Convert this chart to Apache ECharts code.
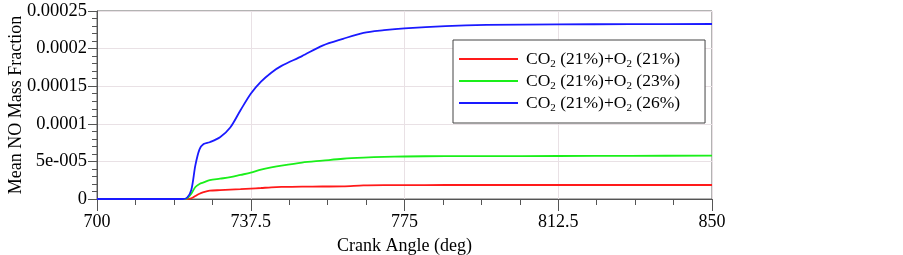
<!DOCTYPE html>
<html>
<head>
<meta charset="utf-8">
<script src="https://cdn.jsdelivr.net/npm/echarts@6/dist/echarts.min.js"></script>
<style>
  html, body { margin: 0; padding: 0; background: #fff; }
  #chart { width: 903px; height: 255px; }
</style>
</head>
<body>
<div id="chart"></div>
<script>
// crank angle samples (deg)
var angle = [700, 721, 722, 723, 724, 725, 726, 727.5, 730, 732.5, 735, 737.5, 740, 742.5, 745, 750, 755, 760, 765, 770, 775, 785, 795, 812.5, 830, 850];

var o2_21 = [0, 0, 0, 0.000001, 0.000004, 0.000007, 0.000009, 0.000011, 0.0000118, 0.0000124, 0.000013, 0.0000138, 0.0000146, 0.0000155, 0.000016, 0.0000164, 0.0000166, 0.0000168, 0.0000182, 0.0000185, 0.0000185, 0.0000186, 0.0000186, 0.0000186, 0.0000186, 0.0000186];
var o2_23 = [0, 0, 0.000001, 0.000007, 0.000016, 0.00002, 0.000022, 0.000025, 0.000027, 0.000029, 0.000032, 0.000035, 0.000039, 0.000042, 0.0000445, 0.0000485, 0.000051, 0.0000535, 0.000055, 0.000056, 0.0000565, 0.000057, 0.000057, 0.0000572, 0.0000574, 0.0000576];
var o2_26 = [0, 0, 0.000002, 0.000012, 0.000045, 0.000066, 0.000073, 0.0000755, 0.000082, 0.000095, 0.000118, 0.00014, 0.000156, 0.000168, 0.000177, 0.00019, 0.000204, 0.000213, 0.000221, 0.0002245, 0.000227, 0.00023, 0.0002315, 0.0002322, 0.0002325, 0.0002327];

var names = ['CO2 (21%)+O2 (21%)', 'CO2 (21%)+O2 (23%)', 'CO2 (21%)+O2 (26%)'];
var colors = ['#ff1a1a', '#1aef1a', '#1a1aff'];
var yTicks = [0, 0.00005, 0.0001, 0.00015, 0.0002, 0.00025];
var yTickLabels = ['0', '5e-005', '0.0001', '0.00015', '0.0002', '0.00025'];

function pairs(vals) {
    var out = [];
    for (var i = 0; i < angle.length; i++) {
        out.push([angle[i], vals[i]]);
    }
    return out;
}

var font = 'Liberation Serif';
var myChart = echarts.init(document.getElementById('chart'));

var series = [];
var allVals = [o2_21, o2_23, o2_26];
for (var k = 0; k < names.length; k++) {
    series.push({
        name: names[k],
        type: 'line',
        data: pairs(allVals[k]),
        smooth: 0.3,
        symbol: 'none',
        lineStyle: { color: colors[k], width: 1.8 },
        itemStyle: { color: colors[k] }
    });
}

var option = {
    animation: false,
    grid: {
        left: 97, top: 11, width: 615, height: 188,
        outerBoundsMode: 'none',
        show: true, borderColor: '#666', borderWidth: 1, backgroundColor: 'transparent'
    },
    legend: {
        orient: 'vertical',
        left: 453, top: 40,
        padding: [8, 25, 9, 6],
        itemWidth: 59, itemHeight: 2, itemGap: 0,
        icon: 'rect',
        backgroundColor: '#fff',
        borderColor: '#444', borderWidth: 1,
        data: names,
        formatter: function (name) {
            var parts = name.split(/(?<=O)2/);
            var s = '{f|' + parts[0] + '}';
            for (var i = 1; i < parts.length; i++) {
                s += '{s|2}{a|' + parts[i] + '}';
            }
            return s;
        },
        textStyle: {
            fontFamily: font, color: '#000',
            rich: {
                f: { fontFamily: font, fontSize: 17.5, color: '#000', lineHeight: 20, padding: [0, 0, 0, 3] },
                a: { fontFamily: font, fontSize: 17.5, color: '#000', lineHeight: 20 },
                s: { fontFamily: font, fontSize: 11, color: '#000', lineHeight: 9, padding: [11, 0, 0, 0] }
            }
        }
    },
    xAxis: {
        type: 'value',
        min: 700, max: 850, interval: 37.5,
        name: 'Crank Angle (deg)',
        nameLocation: 'middle', nameGap: 38, nameMoveOverlap: false,
        nameTextStyle: { fontFamily: font, fontSize: 18, color: '#000' },
        axisLine: { show: true, lineStyle: { color: '#555' } },
        axisTick: { show: true, inside: false, length: 12, lineStyle: { color: '#555' } },
        minorTick: { show: true, splitNumber: 4, length: 6, lineStyle: { color: '#555' } },
        axisLabel: { fontFamily: font, fontSize: 18, color: '#000', margin: 14 },
        splitLine: { show: true, lineStyle: { color: '#e9e1e5' } }
    },
    yAxis: {
        type: 'value',
        min: 0, max: 0.00025, interval: 0.00005,
        name: 'Mean NO Mass Fraction',
        nameLocation: 'middle', nameGap: 72, nameMoveOverlap: false,
        nameTextStyle: { fontFamily: font, fontSize: 18, color: '#000' },
        axisLine: { show: true, lineStyle: { color: '#555' } },
        axisTick: { show: true, inside: false, length: 9, lineStyle: { color: '#555' } },
        minorTick: { show: true, splitNumber: 5, length: 5, lineStyle: { color: '#555' } },
        axisLabel: {
            fontFamily: font, fontSize: 18.5, color: '#000', margin: 10,
            formatter: function (v) {
                for (var i = 0; i < yTicks.length; i++) {
                    if (Math.abs(v - yTicks[i]) < 1e-9) return yTickLabels[i];
                }
                return '';
            }
        },
        splitLine: { show: true, lineStyle: { color: '#e9e1e5' } }
    },
    series: series
};

myChart.setOption(option);
</script>
</body>
</html>
